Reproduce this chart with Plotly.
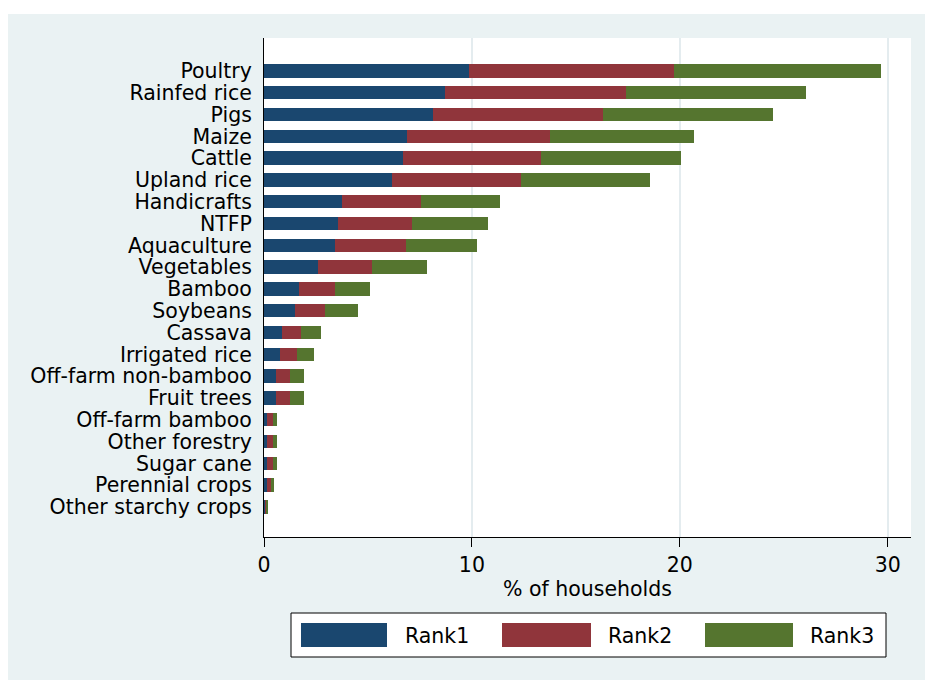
import plotly.graph_objects as go

categories = ["Poultry", "Rainfed rice", "Pigs", "Maize", "Cattle", "Upland rice",
              "Handicrafts", "NTFP", "Aquaculture", "Vegetables", "Bamboo", "Soybeans",
              "Cassava", "Irrigated rice", "Off-farm non-bamboo", "Fruit trees",
              "Off-farm bamboo", "Other forestry", "Sugar cane", "Perennial crops",
              "Other starchy crops"]
rank1 = [9.85, 8.70, 8.15, 6.87, 6.67, 6.18, 3.77, 3.55, 3.40, 2.60, 1.69, 1.48,
         0.87, 0.76, 0.60, 0.60, 0.16, 0.16, 0.16, 0.13, 0.06]
rank2 = [9.87, 8.71, 8.16, 6.88, 6.65, 6.17, 3.79, 3.56, 3.42, 2.58, 1.71, 1.47,
         0.93, 0.81, 0.64, 0.64, 0.26, 0.26, 0.26, 0.19, 0.06]
rank3 = [9.94, 8.67, 8.19, 6.93, 6.72, 6.21, 3.81, 3.66, 3.42, 2.65, 1.72, 1.56,
         0.93, 0.85, 0.67, 0.67, 0.19, 0.19, 0.19, 0.18, 0.06]
series_names = ["Rank1", "Rank2", "Rank3"]
x_ticks = [0, 10, 20, 30]
x_title = "% of households"

colors = ["#1a476f", "#90353b", "#55752f"]
BG = "#eaf2f3"
GRID = "#e4ecef"
FONT = "DejaVu Sans"
FS = 20.5

W, H = 925, 680
# plot area in page pixels
L, R, T, B = 264, 911, 38, 537


def px(x):
    return (x - L) / (R - L)


def py(y):
    return (B - y) / (B - T)


fig = go.Figure()
for name, vals, col in zip(series_names, [rank1, rank2, rank3], colors):
    fig.add_trace(go.Bar(
        y=categories, x=vals, name=name, orientation="h",
        marker=dict(color=col, line=dict(width=0)), showlegend=False,
    ))

shapes = [
    dict(type="rect", xref="paper", yref="paper", x0=px(8), x1=px(940), y0=py(700), y1=py(14),
         fillcolor=BG, line=dict(width=0), layer="below"),
    dict(type="rect", xref="paper", yref="paper", x0=0, x1=1, y0=0, y1=1,
         fillcolor="white", line=dict(width=0), layer="below"),
    # legend box
    dict(type="rect", xref="paper", yref="paper", x0=px(291), x1=px(886), y0=py(657), y1=py(613),
         fillcolor="white", line=dict(color="black", width=1)),
]
annotations = []
sw = [(301, 387, 403), (502, 591, 606), (705, 793, 808)]
for (x0, x1, tx), name, col in zip(sw, series_names, colors):
    shapes.append(dict(type="rect", xref="paper", yref="paper", x0=px(x0), x1=px(x1),
                       y0=py(647), y1=py(623), fillcolor=col, line=dict(width=0)))
    annotations.append(dict(xref="paper", yref="paper", x=px(tx), y=py(636), text=name,
                            showarrow=False, xanchor="left", yanchor="middle",
                            font=dict(family=FONT, size=FS, color="black")))

fig.update_layout(
    width=W, height=H,
    margin=dict(l=L, r=W - R, t=T, b=H - B),
    paper_bgcolor="white", plot_bgcolor="white",
    barmode="stack", bargap=0.39,
    font=dict(family=FONT, size=FS, color="black"),
    shapes=shapes, annotations=annotations,
    xaxis=dict(range=[0, 31.12], tickvals=x_ticks, ticks="outside", ticklen=9,
               tickcolor="black", showline=True, linecolor="black", linewidth=1,
               showgrid=True, gridcolor=GRID, gridwidth=1.5, zeroline=False,
               title=dict(text=x_title, standoff=4, font=dict(family=FONT, size=FS)),
               tickfont=dict(family=FONT, size=FS)),
    yaxis=dict(categoryorder="array", categoryarray=categories,
               tickmode="array", tickvals=categories, ticktext=categories,
               range=[len(categories) - 1 + 1.38, -1.51],
               showline=True, linecolor="black", linewidth=1, ticks="",
               showgrid=False, zeroline=False, ticklabelstandoff=7,
               tickfont=dict(family=FONT, size=FS)),
)

fig.write_html(
    "out.html",
    config={"displayModeBar": False},
    post_script="document.body.style.margin='0';document.body.style.overflow='hidden';",
)
